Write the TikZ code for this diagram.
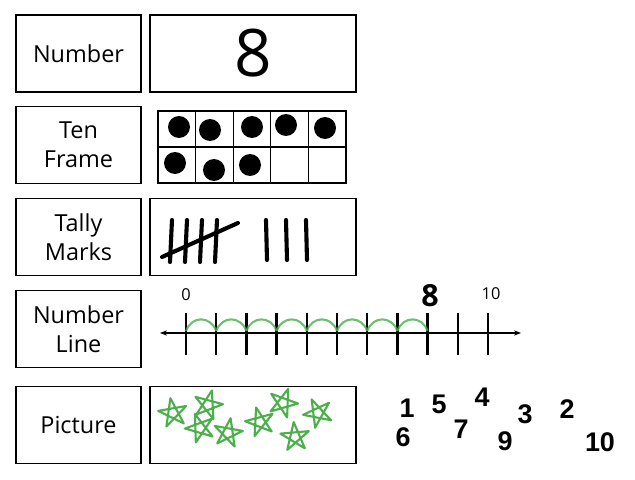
\documentclass[tikz,border=0pt]{standalone}
\usepackage{fontspec}
\setmainfont{Open Sans}
\newfontfamily\numfont{Liberation Sans}
\usetikzlibrary{arrows.meta}

\tikzset{
  cellbox/.style = {draw, line width=1.5pt, minimum width=125*0.03cm, minimum height=77*0.03cm,
                    align=center, font=\fontsize{20}{25}\selectfont},
  showbox/.style = {draw, line width=1.5pt, minimum width=206*0.03cm, minimum height=77*0.03cm},
  dotmark/.style = {fill=black},
  hop/.style = {draw=green!55!black!70, line width=1.8pt, opacity=.8},
  starline/.style = {draw=green!55!black!70, line width=1.8pt, line join=round},
  loose/.style = {font=\numfont\bfseries\fontsize{23}{23}\selectfont}
}

\newcommand{\drawstar}[3]{% x, y, rotation
  \draw[starline, rotate around={#3:(#1,#2)}]
    ({#1+15*cos(90)}, {#2-15*sin(90)})
    -- ({#1+15*cos(234)}, {#2-15*sin(234)})
    -- ({#1+15*cos(18)}, {#2-15*sin(18)})
    -- ({#1+15*cos(162)}, {#2-15*sin(162)})
    -- ({#1+15*cos(306)}, {#2-15*sin(306)}) -- cycle;
}

\begin{document}
\begin{tikzpicture}[x=0.03cm, y=-0.03cm]
  \useasboundingbox (0,0) rectangle (635,480);

  % left column
  \node[cellbox] (number)  at (78.5,53.5)  {Number};
  \node[cellbox] (tenframe) at (78.5,145)  {Ten\\Frame};
  \node[cellbox] (tally)   at (78.5,237)   {Tally\\Marks};
  \node[cellbox] (numline) at (78.5,329)   {Number\\Line};
  \node[cellbox] (picture) at (78.5,425)   {Picture};

  % number
  \node[showbox] (numbox) at (253,53.5) {};
  \node[font=\fontsize{56}{56}\selectfont] (eight) at (numbox.center) {8};

  % ten frame
  \draw[line width=1pt] (158,111) rectangle (346,183);
  \draw[line width=1pt] (158,147) -- (346,147);
  \foreach \i in {1,...,4}
    \draw[line width=1pt] (158+37.6*\i,111) -- (158+37.6*\i,183);
  \foreach \x/\y in {179/127, 210/130, 252/127, 286/125, 325/128, 175/163, 214/170, 250/165}
    \fill[dotmark] (\x,\y) circle (11);

  % tally marks
  \node[showbox] (tallybox) at (253,237) {};
  \foreach \x in {172,187,202,217}
    \draw[line width=3.5pt, line cap=round] (\x,220) -- (\x-2,262);
  \draw[line width=3.5pt, line cap=round] (162,257) -- (238,223);
  \foreach \x in {266,286,306}
    \draw[line width=3.5pt, line cap=round] (\x,220) -- (\x+1,260);

  % number line
  \coordinate (lineL) at (160,333);
  \coordinate (lineR) at (521,333);
  \draw[line width=1.5pt, {Stealth[length=6pt]}-{Stealth[length=6pt]}] (lineL) -- (lineR);
  \foreach \i in {0,...,10}
    \draw[line width=2pt] (186+30.2*\i,313) -- (186+30.2*\i,355);
  \foreach \i in {0,...,7}
    \draw[hop] (186+30.2*\i,331) to[out=70, in=110, looseness=1.4] (186+30.2*\i+30.2,331);
  \node[font=\fontsize{14}{14}\selectfont] (zero) at (186,295) {0};
  \node[font=\fontsize{26}{26}\selectfont\bfseries] (markeight) at (430,296) {8};
  \node[font=\fontsize{14}{14}\selectfont] (ten) at (491,294) {10};

  % picture
  \node[showbox] (picbox) at (253,425) {};
  \foreach \x/\y/\r in {173/413/10, 208/405/-15, 200/428/20, 228/433/-10,
                        260/422/15, 283/403/-20, 318/413/25, 295/437/5}
    {\drawstar{\x}{\y}{\r}}

  % loose numbers
  \foreach \t/\x/\y in {1/407/408, 5/439/404, 4/482/397, 3/525/414, 2/567/409,
                        6/403/437, 7/461/429, 9/505/441, 10/600/442}
    \node[loose] (n\t) at (\x,\y) {\t};
\end{tikzpicture}
\end{document}
